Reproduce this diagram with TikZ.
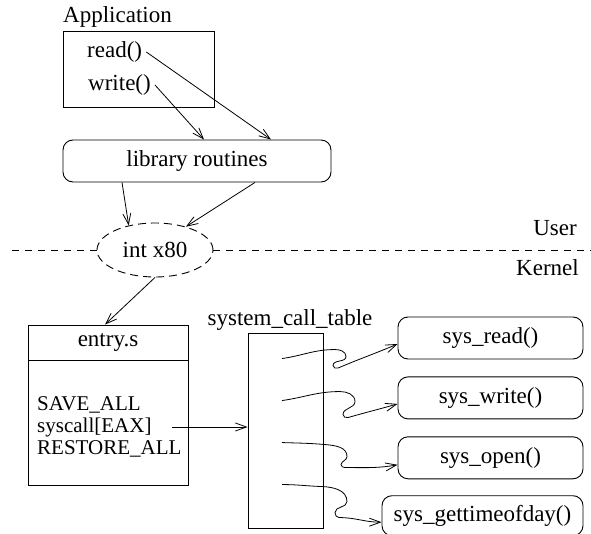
\documentclass[tikz,border=0pt]{standalone}
\usepackage{fontspec}
\setmainfont{Liberation Serif}
\usetikzlibrary{calc,positioning,shapes.geometric,arrows.meta}
\tikzset{
   every node/.style={font=\fontsize{23}{27}\selectfont},
   block/.style={ rectangle, draw=black, line width=0.9pt, inner sep=0pt},
   routine/.style={ rectangle, draw=black, line width=0.9pt, rounded corners=10pt, minimum height=42pt, inner sep=0pt},
   gate/.style={ ellipse, draw=black, line width=0.9pt, dash pattern=on 8pt off 5pt, inner sep=0pt},
   caption/.style={ inner sep=0pt},
   code line/.style={ inner sep=0pt, anchor=west, font=\fontsize{21}{23}\selectfont},
   call/.style={->, line width=0.8pt},
   >={Straight Barb[length=11pt,width=8pt]}
}
\begin{document}
\begin{tikzpicture}[x=1pt,y=1pt]
  \useasboundingbox (0,0) rectangle (591,-534);

  %% user space
  \node[caption, anchor=base west] at (63,-23) (apptitle) {Application};
  \node[block, minimum width=151pt, minimum height=76pt] at (138.5,-69) (app) {};
  \node[caption, inner xsep=4pt, anchor=west] at (83,-52) (read)  {read()};
  \node[caption, inner xsep=4pt, anchor=west] at (84,-85) (write) {write()};
  \node[routine, minimum width=268pt] at (197,-161) (lib) {library routines};

  \draw[call] (read.east)  -- ($(lib.north)+(74,0)$);
  \draw[call] (write.east) -- ($(lib.north)+(7,0)$);

  %% user / kernel boundary
  \node[gate, minimum width=116pt, minimum height=54pt] at (155,-250) (int) {int x80};
  \coordinate (divleft)  at (12,-250);
  \coordinate (divright) at (591,-250);
  \draw[line width=0.9pt, dash pattern=on 7pt off 6pt] (divleft) -- (int.west) (int.east) -- (divright);
  \node[caption, anchor=east] at (577,-228) (user)   {User};
  \node[caption, anchor=east] at (579,-268) (kernel) {Kernel};

  \draw[call] ($(lib.south)+(-75,0)$) -- (int.137);
  \draw[call] ($(lib.south)+(58,0)$)  -- (int.37);

  %% kernel space
  \node[block, minimum width=160pt, minimum height=35pt] at (108,-342.5) (entryhead) {entry.s};
  \node[block, minimum width=160pt, minimum height=125pt, below=0pt of entryhead] (entry) {};
  \node[code line] at (37,-405) (saveall)    {SAVE\_ALL};
  \node[code line] at (37,-427) (syscall)    {syscall[EAX]};
  \node[code line] at (37,-449) (restoreall) {RESTORE\_ALL};

  \draw[call] (int.south) -- ($(entryhead.north)+(-3,0)$);

  \node[block, minimum width=75pt, minimum height=195pt] at (285.5,-430.5) (table) {};
  \node[caption, above=2pt of table, xshift=4.5pt] (tablename) {system\_call\_table};

  \draw[call] ($(entry.east |- syscall)+(-16,0)$) -- (table.west |- syscall);

  \node[routine, minimum width=185pt] at (490.5,-338)        (sysread)  {sys\_read()};
  \node[routine, minimum width=185pt, below=17pt of sysread]  (syswrite) {sys\_write()};
  \node[routine, minimum width=185pt, below=17pt of syswrite] (sysopen)  {sys\_open()};
  \node[routine, minimum width=201pt, minimum height=40pt, below left=16pt and 0pt of sysopen.south east] (sysgettime) {sys\_gettimeofday()};

  \foreach \i/\dy in {1/26,2/68,3/110,4/152}
    \coordinate (slot\i) at ($(table.north)+(-3.5,-\dy)$);

  %% table entries
  \draw[call] (slot1) to[out=8,in=180] ++(53,9) to[out=0,in=90] ++(11,-7)
    to[out=-90,in=90] ++(-13,-9) to[out=-90,in=203] ++(5,-2.5)
    to[out=23,in=203] ($(sysread.west)+(0,-6)$);
  \draw[call] (slot2) to[out=8,in=180] ++(58,9) to[out=0,in=90] ++(15,-10)
    to[out=-90,in=90] ++(-12,-13) to[out=-90,in=196] ++(5,-3)
    to[out=16,in=196] ($(syswrite.west)+(0,-6)$);
  \draw[call] (slot3) to[out=-2,in=175] ++(43,-2) to[out=-5,in=90] ++(22,-12)
    to[out=-90,in=80] ++(-6,-8) to[out=-90,in=180] ++(4,-3)
    to[out=0,in=190] ($(sysopen.west)+(0,-7)$);
  \draw[call] (slot4) to[out=0,in=178] ++(40,-2) to[out=-2,in=90] ++(25,-15)
    to[out=-90,in=90] ++(-12,-11) to[out=-90,in=180] ++(4,-5)
    to[out=0,in=180] ($(sysgettime.west)+(0,-6.5)$);

\end{tikzpicture}
\end{document}
